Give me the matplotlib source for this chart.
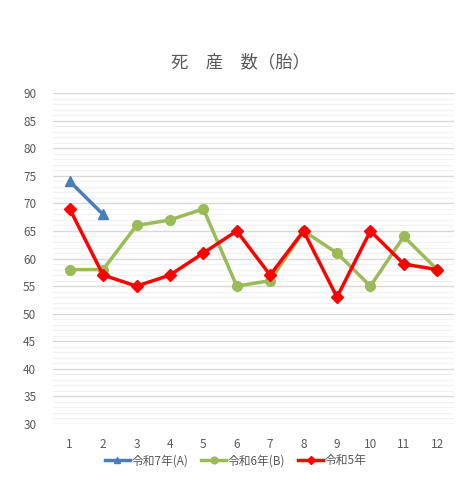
import matplotlib
matplotlib.use("Agg")
import matplotlib.pyplot as plt
from matplotlib.ticker import MultipleLocator

plt.rcParams['font.family'] = ['Noto Sans CJK JP', 'DejaVu Sans']

months = [1, 2, 3, 4, 5, 6, 7, 8, 9, 10, 11, 12]
r7 = [74, 68]
r6 = [58, 58, 66, 67, 69, 55, 56, 65, 61, 55, 64, 58]
r5 = [69, 57, 55, 57, 61, 65, 57, 65, 53, 65, 59, 58]
labels = ['令和7年(A)', '令和6年(B)', '令和5年']
title = '死　産　数（胎）'

fig = plt.figure(figsize=(4.67, 4.8), dpi=100)
ax = fig.add_axes([0.1135, 0.1167, 0.8585, 0.6893])

ax.plot(months[:len(r7)], r7, color='#4A7EBB', lw=2.5, marker='^', ms=7, label=labels[0], zorder=5)
ax.plot(months, r6, color='#9BBB59', lw=2.5, marker='o', ms=7, label=labels[1], zorder=3)
ax.plot(months, r5, color='#FF0000', lw=2.5, marker='D', ms=6.5, label=labels[2], zorder=4)

ax.set_xlim(0.5, 12.5)
ax.set_ylim(30, 90)
ax.set_xticks(months)
ax.yaxis.set_major_locator(MultipleLocator(5))
ax.yaxis.set_minor_locator(MultipleLocator(1))
ax.grid(which='major', axis='y', color='#D9D9D9', lw=1.0)
ax.grid(which='minor', axis='y', color='#F2F2F2', lw=0.8)
ax.set_axisbelow(True)
for s in ax.spines.values():
    s.set_visible(False)
ax.tick_params(which='both', length=0, colors='#595959', labelsize=8.5)
ax.tick_params(axis='x', pad=10)
ax.tick_params(axis='y', pad=12)

fig.text(0.514, 0.871, title, ha='center', va='center', fontsize=12.5, color='#595959')

leg = fig.legend(loc='center', bbox_to_anchor=(0.505, 0.04), ncol=3, frameon=False,
                 fontsize=8.5, handlelength=2.1, columnspacing=1.1, handletextpad=0.15,
                 markerscale=0.7)
for t in leg.get_texts():
    t.set_color('#595959')

fig.savefig('out.png', dpi=100, facecolor='white')
